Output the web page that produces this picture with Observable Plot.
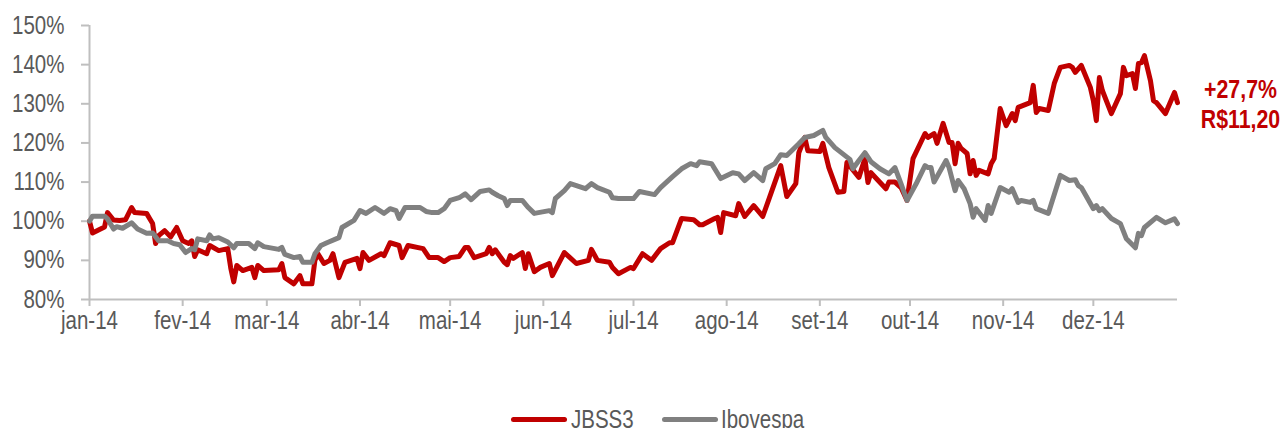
<!DOCTYPE html>
<html>
<head>
<meta charset="utf-8">
<script src="https://cdn.jsdelivr.net/npm/d3@7"></script>
<script src="https://cdn.jsdelivr.net/npm/@observablehq/plot@0.6"></script>
<style>
  html, body { margin: 0; padding: 0; background: #fff; width: 1282px; height: 428px; overflow: hidden; }
  #wrap { position: relative; width: 1282px; height: 428px; }
  #legend { position: absolute; top: 404px; left: 0; width: 1282px; height: 30px; font-family: "Liberation Sans", Arial, sans-serif; font-size: 25px; color: #595959; }
  .sw { position: absolute; top: 13px; height: 5px; border-radius: 3px; }
  .lt { position: absolute; top: 1px; line-height: 28px; transform: scaleX(0.82); transform-origin: left center; white-space: nowrap; }
</style>
</head>
<body>
<div id="wrap"></div>
<script>
// ---- Data ----
const seriesNames = ["JBSS3", "Ibovespa"];
const seriesColors = ["#C00000", "#808080"];

const jbssDates = ["01-02","01-03","01-07","01-08","01-10","01-12","01-14","01-16","01-17","01-21","01-22","01-23","01-24","01-25","01-27","01-29","01-31","02-02","02-04","02-05","02-06","02-07","02-10","02-11","02-14","02-17","02-18","02-19","02-20","02-22","02-25","02-26","02-27","03-01","03-06","03-07","03-08","03-11","03-13","03-14","03-17","03-18","03-19","03-21","03-23","03-24","03-26","03-28","04-01","04-02","04-03","04-05","04-09","04-10","04-12","04-15","04-16","04-18","04-23","04-25","04-28","04-30","05-02","05-05","05-07","05-08","05-10","05-14","05-15","05-16","05-17","05-20","05-21","05-22","05-23","05-26","05-27","05-28","05-30","06-01","06-04","06-05","06-09","06-13","06-17","06-18","06-20","06-24","06-25","06-27","07-01","07-02","07-05","07-08","07-11","07-14","07-15","07-18","07-22","07-24","07-25","07-29","07-30","07-31","08-01","08-05","08-06","08-08","08-11","08-14","08-16","08-20","08-22","08-25","08-26","08-28","08-29","09-02","09-03","09-05","09-08","09-10","09-11","09-15","09-17","09-18","09-19","09-24","09-25","09-27","09-29","10-01","10-03","10-07","10-08","10-10","10-11","10-13","10-15","10-16","10-17","10-18","10-19","10-21","10-22","10-23","10-24","10-25","10-28","10-29","10-30","11-01","11-03","11-05","11-06","11-07","11-11","11-12","11-13","11-14","11-17","11-19","11-21","11-24","11-25","11-26","11-28","12-01","12-02","12-03","12-04","12-05","12-08","12-11","12-12","12-13","12-15","12-16","12-17","12-18","12-19","12-21","12-22","12-23","12-26","12-29","12-30"];
const jbssValues = [100,97,98.5,102.2,100.3,100.2,100.4,103.5,102.2,102,100.7,99.4,94.3,96.3,97.6,96,98.4,95,94.3,95,91,92.7,91.7,93.8,92.5,93,88,84.5,88.7,87.4,88.2,85.6,88.7,87.4,87.6,89.2,85.6,84,86.1,84,84,90,91.7,89.2,90,91.7,85.6,89.5,90.5,87.9,92,90,91.7,91.2,94.5,93.8,90.7,93.8,93,90.7,90.7,89.7,90.7,91,93.3,93.3,90.7,91.7,93.3,91.7,92.7,89.5,88.9,91.2,90.5,92,87.9,91.7,87.1,88.2,89.2,86.1,92,89.2,90,92.8,90,89.5,88.2,86.6,88.2,87.9,91.7,90,93,94.5,94.5,100.7,100.4,99.1,99.1,100.7,101,97.1,102.2,101.4,104.5,101.2,104,101.2,105.5,114.2,106.3,109.6,117.5,121.4,118,117.8,119.9,113.7,107.4,107.6,115,111.2,116,109.9,112.4,108.3,110,110,108.6,105.3,116,122.4,121.4,122.4,119.9,125,120.1,120.1,114.7,119.9,118.6,117.3,112.1,115.5,111.7,113,112.1,114.7,116,128.8,124.4,127.5,125.7,129.1,130.3,134.7,127.8,128.8,128.3,135.2,139.3,139.8,139.3,138,139.8,134.2,130.8,125.7,136.7,133.4,127.5,132.6,139.3,137.2,137.7,133.9,140.3,140.5,142.3,135.9,130.8,130.3,127.5,132.9,130.3];

const iboDates = ["01-02","01-03","01-07","01-08","01-10","01-11","01-13","01-16","01-18","01-21","01-23","01-25","01-28","01-30","02-01","02-03","02-05","02-06","02-07","02-10","02-11","02-12","02-14","02-17","02-19","02-20","02-24","02-26","02-27","03-01","03-06","03-07","03-08","03-11","03-13","03-14","03-17","03-18","03-20","03-22","03-26","03-27","03-31","04-02","04-04","04-07","04-10","04-12","04-14","04-15","04-17","04-22","04-24","04-26","04-28","04-30","05-02","05-05","05-07","05-09","05-12","05-15","05-16","05-18","05-20","05-21","05-22","05-26","05-28","05-30","06-04","06-05","06-06","06-09","06-11","06-16","06-18","06-20","06-24","06-25","06-27","07-02","07-04","07-09","07-11","07-15","07-18","07-21","07-23","07-24","07-28","07-31","08-04","08-06","08-08","08-11","08-14","08-15","08-18","08-20","08-22","08-26","08-28","08-31","09-03","09-04","09-07","09-12","09-13","09-15","09-17","09-19","09-22","09-25","09-27","09-29","10-01","10-04","10-07","10-08","10-09","10-10","10-14","10-15","10-17","10-18","10-20","10-22","10-23","10-24","10-27","10-28","10-29","11-01","11-04","11-05","11-07","11-08","11-11","11-12","11-13","11-17","11-21","11-24","11-26","11-27","11-28","12-02","12-03","12-04","12-05","12-08","12-11","12-13","12-16","12-17","12-18","12-19","12-23","12-26","12-29","12-30"];
const iboValues = [100,101.3,101.3,100.6,98,98.6,98.2,99.6,98,96.9,97,95,95,94.3,94,92,93,92.7,95.5,95,96.5,95.5,95.8,94.7,93.2,94.3,94.3,93,94.5,93.5,92.8,93.3,91.5,90.7,91,89.5,89.5,91.7,93.8,94.5,95.8,98.4,100.2,102.7,102,103.5,102,103.2,102.7,100.7,103.5,103.5,102.5,102.2,102.2,103.2,105.3,106,107,105.5,107.6,108,107.4,106.5,105.8,104,105.3,105.3,103.5,102,102.7,102.2,105.8,107.8,109.6,108.3,109.6,108.6,107.4,106,105.8,105.8,107.6,106.8,108.6,111.4,113.4,114.7,114.2,115.2,114.7,110.9,112.4,112.1,110.4,112.4,110.4,113.4,114.7,117,116.8,119.8,121.4,121.9,123.2,121.4,118.8,115.8,113.4,115.5,117.5,115.2,113.4,112.1,113.7,109.6,105.3,109.5,114.2,113.7,113.7,110,115.5,113.7,107.8,110.4,108.3,104.5,101,103.2,100.2,104,102,108.6,107.4,108.3,104.8,105.3,104.8,105.3,103.2,102,111.7,110.4,110.6,109.1,108.6,103.2,104,102.7,103.2,100.7,99.4,95.5,93.2,96.9,96.3,98.4,101,99.6,100.6,99.4];

const yTicks = [80, 90, 100, 110, 120, 130, 140, 150];
const monthLabels = ["jan-14","fev-14","mar-14","abr-14","mai-14","jun-14","jul-14","ago-14","set-14","out-14","nov-14","dez-14"];
const annotationLines = ["+27,7%", "R$11,20"];
const xStart = "01-02", xEnd = "12-30";

// ---- Build ----
const toDate = s => new Date("2014-" + s + "T00:00:00Z");
const rows = [
  ...jbssDates.map((d, i) => ({date: toDate(d), value: jbssValues[i], series: seriesNames[0]})),
  ...iboDates.map((d, i) => ({date: toDate(d), value: iboValues[i], series: seriesNames[1]}))
];
const monthTicks = monthLabels.map((_, m) => new Date(Date.UTC(2014, m, 2)));
const lastJ = rows.filter(r => r.series === seriesNames[0]).slice(-1)[0];

const font = '"Liberation Sans", Arial, sans-serif';

const chart = Plot.plot({
  width: 1282,
  height: 345,
  marginLeft: 89,
  marginRight: 105,
  marginTop: 25,
  marginBottom: 46,
  style: {fontFamily: font, fontSize: "25px", color: "#595959", background: "#fff", overflow: "visible"},
  x: {type: "utc", domain: [toDate(xStart), toDate(xEnd)]},
  y: {domain: [80, 150]},
  color: {domain: seriesNames, range: seriesColors},
  marks: [
    Plot.axisY({ticks: yTicks, tickSize: 8, tickPadding: 17, tickFormat: d => d + "%", stroke: "#bfbfbf", fill: "#595959", strokeWidth: 2, fontSize: 25, label: null}),
    Plot.axisX({ticks: monthTicks, tickSize: 7, tickPadding: 5, tickFormat: d => monthLabels[d.getUTCMonth()], stroke: "#bfbfbf", fill: "#595959", strokeWidth: 2, fontSize: 25, label: null}),
    Plot.ruleX([toDate(xStart)], {y1: 80, y2: 150, stroke: "#bfbfbf", strokeWidth: 2}),
    Plot.ruleY([80], {stroke: "#bfbfbf", strokeWidth: 2}),
    Plot.line(rows, {x: "date", y: "value", z: "series", stroke: "series", strokeWidth: 5, strokeLinejoin: "round", strokeLinecap: "round"}),
    Plot.text([lastJ], {x: "date", y: "value", text: () => annotationLines.join("\n"), dx: 63, dy: 1, lineHeight: 1.15, fill: seriesColors[0], fontWeight: "bold", fontSize: 26, textAnchor: "middle", lineAnchor: "middle"})
  ]
});

// Narrow the text horizontally (the reference uses a narrow sans face)
chart.querySelectorAll("text").forEach(t => {
  let x = parseFloat(t.getAttribute("x"));
  if (!isFinite(x) || /em/.test(t.getAttribute("x") || "")) x = 0;
  const tr = t.getAttribute("transform") || "";
  t.setAttribute("transform", `${tr} translate(${x},0) scale(0.82,1) translate(${-x},0)`.trim());
});

const wrap = document.getElementById("wrap");
wrap.appendChild(chart);

// Legend below the SVG
const legend = document.createElement("div");
legend.id = "legend";
const items = [
  {name: seriesNames[0], color: seriesColors[0], sw: 511, tx: 571},
  {name: seriesNames[1], color: seriesColors[1], sw: 662, tx: 721}
];
items.forEach(it => {
  const s = document.createElement("div");
  s.className = "sw";
  s.style.left = it.sw + "px";
  s.style.width = "56px";
  s.style.background = it.color;
  legend.appendChild(s);
  const t = document.createElement("div");
  t.className = "lt";
  t.style.left = it.tx + "px";
  t.textContent = it.name;
  legend.appendChild(t);
});
wrap.appendChild(legend);
</script>
</body>
</html>
